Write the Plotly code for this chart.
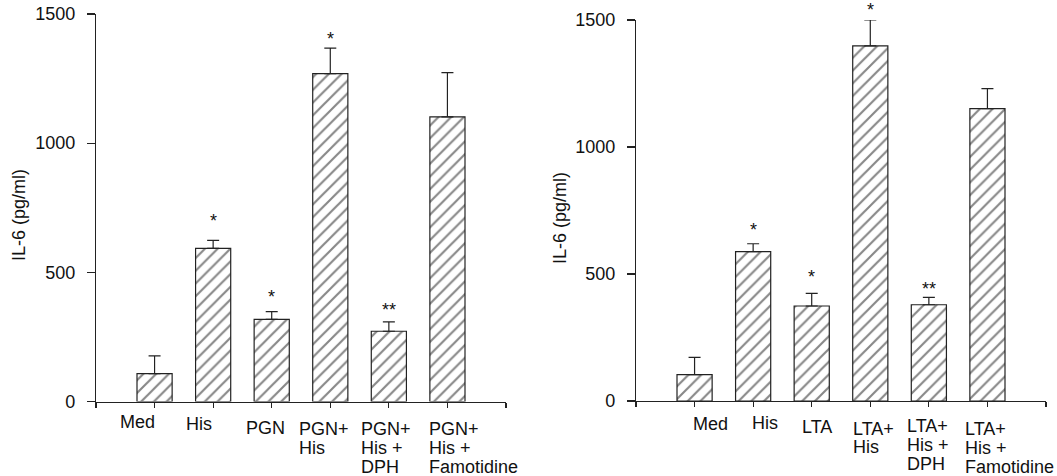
import plotly.graph_objects as go

# ---------------- data ----------------
left_categories = ["Med", "His", "PGN", "PGN+\nHis", "PGN+\nHis +\nDPH", "PGN+\nHis +\nFamotidine"]
left_values = [108, 593, 318, 1269, 272, 1102]
left_err_top = [177, 624, 348, 1368, 308, 1273]
left_stars = ["", "*", "*", "*", "**", ""]

right_categories = ["Med", "His", "LTA", "LTA+\nHis", "LTA+\nHis +\nDPH", "LTA+\nHis +\nFamotidine"]
right_values = [104, 588, 374, 1398, 379, 1151]
right_err_top = [172, 619, 424, 1500, 408, 1230]
right_stars = ["", "*", "*", "*", "**", ""]

y_ticks = [0, 500, 1000, 1500]
y_title = "IL-6 (pg/ml)"

# ---------------- style ----------------
W, H = 1057, 476
FONT = "Liberation Sans, Arial, Helvetica, sans-serif"
FS = 18
LINE = "#222222"

panels = [
    dict(cats=left_categories, vals=left_values, err=left_err_top, stars=left_stars,
         xdom=(96, 506), ydom=(14, 401.5), title_x=19, title_y=215,
         lab_dx=[-34.3, -27.3, -25.3, -31.7, -28.3, -18.7],
         lab_top=[12.5, 15.2, 18.5, 20.2, 20.2, 20.2],
         star_gap=[0, 22, 18, 12, 15, 0]),
    dict(cats=right_categories, vals=right_values, err=right_err_top, stars=right_stars,
         xdom=(636, 1046), ydom=(20, 401), title_x=560, title_y=218,
         lab_dx=[-1.2, -1.3, -9.8, -17.3, -21.8, -22.7],
         lab_top=[15.7, 14.7, 18, 20, 17.3, 20.7],
         star_gap=[0, 17, 19, 13, 11, 0]),
]

fig = go.Figure()
annotations = []

for i, p in enumerate(panels):
    xa = "x" if i == 0 else "x2"
    ya = "y" if i == 0 else "y2"
    xs = list(range(1, len(p["vals"]) + 1))
    fig.add_trace(go.Bar(
        x=xs, y=p["vals"], width=0.6, xaxis=xa, yaxis=ya,
        marker=dict(color="white", line=dict(color=LINE, width=1.2),
                    pattern=dict(shape="/", fgcolor="#111111", bgcolor="white", size=9, solidity=0.24)),
        error_y=dict(type="data", symmetric=False,
                     array=[e - v for e, v in zip(p["err"], p["vals"])],
                     arrayminus=[0] * len(p["vals"]),
                     color=LINE, thickness=1.2, width=6),
        showlegend=False, hoverinfo="skip",
    ))
    suffix = "" if i == 0 else "2"
    xdom = (p["xdom"][0] / W, p["xdom"][1] / W)
    ydom = (1 - p["ydom"][1] / H, 1 - p["ydom"][0] / H)
    fig.layout["xaxis" + suffix] = dict(
        domain=xdom, range=[0, 7], anchor=ya, showgrid=False, zeroline=False,
        showline=True, linecolor=LINE, linewidth=1.2,
        ticks="outside", ticklen=5, tickwidth=1.2, tickcolor=LINE,
        tickvals=list(range(0, 8)), showticklabels=False, fixedrange=True,
    )
    fig.layout["yaxis" + suffix] = dict(
        domain=ydom, range=[0, 1500], anchor=xa, showgrid=False, zeroline=False,
        showline=True, linecolor=LINE, linewidth=1.2,
        ticks="outside", ticklen=8, tickwidth=1.2, tickcolor=LINE,
        tickvals=y_ticks, ticktext=[str(t) for t in y_ticks],
        tickfont=dict(family=FONT, size=FS, color="#111111"),
        ticklabelstandoff=8, fixedrange=True,
    )
    # axis title
    annotations.append(dict(
        text=y_title, xref="paper", yref="paper", x=p["title_x"] / W, y=1 - p["title_y"] / H,
        xanchor="center", yanchor="middle", textangle=-90, showarrow=False,
        font=dict(family=FONT, size=FS, color="#111111"),
    ))
    # category labels (line by line)
    for k, cat in enumerate(p["cats"]):
        for j, line in enumerate(cat.split("\n")):
            annotations.append(dict(
                text=line, xref=xa, yref=ya, x=xs[k], y=0,
                xanchor="left", yanchor="top", showarrow=False, borderpad=0,
                xshift=p["lab_dx"][k] - 1, yshift=-(p["lab_top"][k] + 18.8 * j - 3.4),
                font=dict(family=FONT, size=FS, color="#111111"),
            ))
    # significance stars
    for k, s in enumerate(p["stars"]):
        if s:
            annotations.append(dict(
                text=s, xref=xa, yref=ya, x=xs[k], y=p["err"][k],
                xanchor="center", yanchor="bottom", showarrow=False,
                yshift=p["star_gap"][k] - 15.1,
                font=dict(family=FONT, size=FS, color="#111111"),
            ))

fig.update_layout(
    width=W, height=H, margin=dict(l=0, r=0, t=0, b=0, autoexpand=False),
    paper_bgcolor="white", plot_bgcolor="white",
    annotations=annotations, bargap=0,
)

fig.write_html(
    "out.html",
    config={"displayModeBar": False, "staticPlot": True},
    post_script="document.body.style.margin='0';document.body.style.overflow='hidden';",
)
